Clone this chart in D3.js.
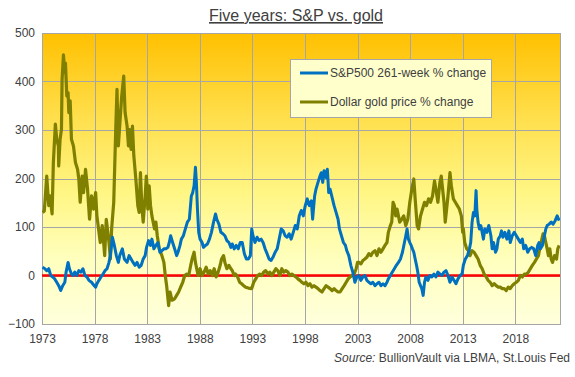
<!DOCTYPE html>
<html>
<head>
<meta charset="utf-8">
<script src="https://cdn.jsdelivr.net/npm/d3@7"></script>
<style>
  html, body { margin: 0; padding: 0; background: #ffffff; }
  svg { display: block; font-family: "Liberation Sans", Arial, sans-serif; }
</style>
</head>
<body>
<svg id="chart" width="575" height="377"></svg>
<script>
// ---------- DATA ----------
const chartTitle = "Five years: S&P vs. gold";
const seriesNames = ["S&P500 261-week % change", "Dollar gold price % change"];
const xTickYears = [1973, 1978, 1983, 1988, 1993, 1998, 2003, 2008, 2013, 2018];
const yTicks = [-100, 0, 100, 200, 300, 400, 500];

// [decimal year, % change]
const spxSeries = [
  [1973.05,17],[1973.22,15],[1973.45,10],[1973.64,14],[1973.83,0],[1974.02,-3],[1974.21,-7],[1974.40,-14],
  [1974.59,-21],[1974.78,-31],[1974.97,-21],[1975.17,-14],[1975.29,7],[1975.48,27],[1975.61,14],[1975.80,3],
  [1975.93,0],[1976.12,7],[1976.31,0],[1976.50,10],[1976.69,7],[1976.89,14],[1977.08,0],[1977.27,-3],
  [1977.46,-10],[1977.71,-14],[1977.97,-21],[1978.10,-24],[1978.22,-17],[1978.41,-10],[1978.61,-3],[1978.80,3],
  [1978.99,10],[1979.18,14],[1979.37,27],[1979.50,41],[1979.69,79],[1979.88,62],[1980.07,41],[1980.26,27],
  [1980.39,41],[1980.64,55],[1980.83,34],[1981.09,27],[1981.28,41],[1981.47,34],[1981.66,27],[1981.85,21],
  [1982.04,27],[1982.24,17],[1982.43,21],[1982.62,34],[1982.81,41],[1982.94,58],
  [1983.13,72],[1983.32,62],[1983.45,75],[1983.64,55],[1983.83,62],[1984.02,68],[1984.21,48],[1984.40,51],
  [1984.59,55],[1984.78,55],[1984.97,58],[1985.10,68],[1985.23,82],[1985.42,68],[1985.61,55],[1985.80,41],
  [1985.93,48],[1986.12,62],[1986.25,75],[1986.44,82],[1986.63,96],[1986.82,110],[1987.01,116],[1987.20,164],
  [1987.33,171],[1987.46,185],[1987.59,223],[1987.68,192],[1987.78,137],[1987.90,89],[1988.03,75],[1988.22,68],
  [1988.35,58],[1988.54,62],[1988.73,65],[1988.92,75],[1989.11,89],[1989.31,110],[1989.50,127],[1989.62,116],
  [1989.82,106],[1990.01,89],[1990.20,86],[1990.39,82],[1990.58,72],[1990.77,68],[1990.96,58],[1991.09,65],
  [1991.28,55],[1991.47,62],[1991.66,55],[1991.85,68],[1992.04,68],[1992.24,45],[1992.43,34],[1992.62,34],
  [1992.81,41],[1992.94,96],
  [1993.06,82],[1993.25,68],[1993.45,79],[1993.64,72],[1993.83,75],[1994.02,68],[1994.21,55],[1994.40,45],
  [1994.59,34],[1994.78,31],[1994.97,38],[1995.17,48],[1995.36,55],[1995.55,75],[1995.74,96],[1995.93,92],
  [1996.12,82],[1996.31,79],[1996.50,86],[1996.69,75],[1996.89,89],[1997.08,103],[1997.27,96],[1997.46,123],
  [1997.65,134],[1997.84,123],[1998.03,144],[1998.22,158],[1998.41,144],[1998.61,154],[1998.73,116],[1998.92,164],
  [1999.05,178],[1999.24,192],[1999.43,205],[1999.56,212],[1999.69,192],[1999.82,216],[2000.01,202],[2000.13,219],
  [2000.26,171],[2000.39,178],[2000.58,161],[2000.77,144],[2000.96,130],[2001.15,116],[2001.28,96],[2001.47,82],
  [2001.66,68],[2001.85,62],[2001.98,51],[2002.17,41],[2002.36,21],[2002.55,7],[2002.75,-14],[2002.94,-3],
  [2003.13,0],[2003.32,-10],[2003.51,-3],[2003.70,0],[2003.89,-10],[2004.08,-14],[2004.27,-17],[2004.46,-14],
  [2004.66,-21],[2004.85,-17],[2005.04,-14],[2005.23,-21],[2005.42,-17],[2005.61,-21],[2005.80,-14],[2005.93,-7],
  [2006.12,0],[2006.31,7],[2006.50,14],[2006.69,21],[2006.89,27],[2007.08,34],[2007.27,48],[2007.46,68],
  [2007.59,82],[2007.71,96],[2007.84,75],[2007.97,68],[2008.10,62],[2008.22,55],[2008.35,48],[2008.48,34],
  [2008.61,21],[2008.73,7],[2008.86,-14],[2008.99,-21],[2009.11,-27],[2009.24,-41],[2009.37,-14],[2009.50,-3],
  [2009.69,-10],[2009.88,0],[2010.07,-3],[2010.26,3],[2010.45,-3],[2010.64,7],[2010.83,3],[2011.03,0],
  [2011.22,7],[2011.41,10],[2011.60,0],[2011.79,-14],[2011.98,-3],[2012.17,-10],[2012.36,-17],[2012.55,-7],
  [2012.75,0],[2012.94,3],
  [2013.06,21],[2013.25,34],[2013.45,41],[2013.64,55],[2013.76,68],[2013.89,110],[2014.02,130],[2014.15,123],
  [2014.27,175],[2014.34,137],[2014.46,110],[2014.59,96],[2014.72,103],[2014.85,89],[2014.97,75],[2015.10,96],
  [2015.29,89],[2015.48,103],[2015.68,82],[2015.80,55],[2015.93,68],[2016.12,48],[2016.25,55],[2016.38,75],
  [2016.57,82],[2016.69,92],[2016.82,79],[2017.01,89],[2017.20,75],[2017.39,92],[2017.52,68],[2017.71,82],
  [2017.90,89],[2018.10,82],[2018.29,75],[2018.48,68],[2018.67,75],[2018.80,55],[2018.99,62],[2019.18,48],
  [2019.37,55],[2019.56,58],[2019.75,55],[2019.94,41],[2020.13,62],[2020.26,68],[2020.39,55],[2020.58,62],
  [2020.77,82],[2020.90,96],[2021.03,103],[2021.22,106],[2021.41,110],[2021.60,106],[2021.79,113],[2021.98,123],
  [2022.17,113]
];

const goldSeries = [
  [1973.05,130],[1973.22,133],[1973.45,205],[1973.64,144],[1973.76,164],[1973.96,127],[1974.08,233],[1974.27,312],
  [1974.40,281],[1974.56,267],[1974.59,226],[1974.72,281],[1974.85,301],[1974.91,404],[1975.04,455],[1975.17,418],
  [1975.23,438],[1975.36,370],[1975.48,377],[1975.55,336],[1975.68,360],[1975.80,281],[1975.99,267],[1976.18,233],
  [1976.38,219],[1976.50,199],[1976.63,151],[1976.82,205],[1976.95,171],[1977.14,219],[1977.33,178],[1977.52,116],
  [1977.71,164],[1977.90,137],[1978.10,171],[1978.22,123],[1978.54,68],[1978.73,103],[1978.96,41],[1979.11,116],
  [1979.37,68],[1979.50,34],[1979.62,96],[1979.82,151],[1980.01,301],[1980.13,384],[1980.26,267],[1980.45,329],
  [1980.58,370],[1980.77,411],[1980.90,336],[1981.09,308],[1981.22,267],[1981.34,301],[1981.47,260],[1981.60,308],
  [1981.73,247],[1981.92,199],[1982.11,144],[1982.24,130],[1982.36,212],[1982.49,144],[1982.62,110],[1982.81,164],
  [1982.92,205],[1983.00,180],
  [1983.06,137],[1983.19,185],[1983.32,144],[1983.45,123],[1983.57,110],[1983.70,96],[1983.83,110],[1983.96,82],
  [1984.15,55],[1984.40,41],[1984.59,27],[1984.72,0],[1984.85,-21],[1985.04,-62],[1985.17,-34],[1985.36,-51],
  [1985.61,-48],[1985.80,-41],[1985.99,-34],[1986.18,-24],[1986.38,-14],[1986.57,0],[1986.76,3],[1986.95,0],
  [1987.14,21],[1987.27,34],[1987.46,48],[1987.59,27],[1987.71,14],[1987.84,0],[1988.03,14],[1988.22,0],
  [1988.41,7],[1988.61,17],[1988.80,3],[1988.99,10],[1989.18,0],[1989.37,14],[1989.56,-3],[1989.75,7],
  [1989.94,21],[1990.07,34],[1990.26,41],[1990.39,27],[1990.58,14],[1990.77,21],[1990.96,14],[1991.09,10],
  [1991.28,0],[1991.41,3],[1991.60,-3],[1991.79,-14],[1991.98,-17],[1992.17,-21],[1992.36,-24],[1992.62,-26],
  [1992.94,-27],
  [1993.13,-14],[1993.32,-7],[1993.51,0],[1993.70,3],[1993.89,0],[1994.08,7],[1994.27,10],[1994.46,3],
  [1994.66,7],[1994.85,0],[1995.04,7],[1995.23,14],[1995.42,10],[1995.61,0],[1995.80,14],[1995.99,7],
  [1996.18,10],[1996.38,7],[1996.57,0],[1996.76,3],[1996.95,0],[1997.14,-3],[1997.33,-7],[1997.52,-10],
  [1997.71,-14],[1997.90,-17],[1998.10,-14],[1998.29,-21],[1998.48,-17],[1998.67,-24],[1998.86,-21],[1999.05,-24],
  [1999.24,-27],[1999.43,-31],[1999.62,-34],[1999.82,-27],[2000.01,-21],[2000.20,-24],[2000.39,-27],[2000.58,-31],
  [2000.77,-27],[2000.96,-31],[2001.15,-34],[2001.34,-34],[2001.54,-27],[2001.73,-21],[2001.92,-14],[2002.11,-7],
  [2002.30,-3],[2002.49,0],[2002.68,3],[2002.87,14],[2003.00,27],
  [2003.13,27],[2003.32,24],[2003.51,31],[2003.70,34],[2003.89,38],[2004.08,45],[2004.27,41],[2004.46,48],
  [2004.66,51],[2004.85,41],[2005.04,55],[2005.23,48],[2005.42,55],[2005.61,62],[2005.80,68],[2005.93,89],
  [2006.12,103],[2006.25,110],[2006.38,151],[2006.50,144],[2006.63,123],[2006.76,137],[2006.89,123],[2007.01,110],
  [2007.20,116],[2007.39,123],[2007.59,103],[2007.78,116],[2007.97,151],[2008.16,178],[2008.35,199],[2008.48,158],
  [2008.67,103],[2008.80,96],[2008.99,123],[2009.18,137],[2009.37,151],[2009.56,144],[2009.75,158],[2009.94,151],
  [2010.13,164],[2010.32,195],[2010.45,178],[2010.64,151],[2010.83,192],[2010.96,205],[2011.09,178],[2011.22,151],
  [2011.34,110],[2011.47,137],[2011.60,164],[2011.79,212],[2011.92,185],[2012.11,158],[2012.30,151],[2012.49,144],
  [2012.68,137],[2012.87,123],[2013.00,89],
  [2013.06,96],[2013.19,68],[2013.38,55],[2013.57,51],[2013.70,41],[2013.89,51],[2014.08,48],[2014.27,41],
  [2014.46,34],[2014.66,21],[2014.85,14],[2015.04,3],[2015.23,-3],[2015.42,-10],[2015.61,-14],[2015.80,-21],
  [2015.99,-17],[2016.18,-21],[2016.38,-24],[2016.57,-24],[2016.76,-27],[2016.95,-27],[2017.14,-31],[2017.33,-24],
  [2017.52,-27],[2017.71,-21],[2017.90,-17],[2018.10,-14],[2018.29,-10],[2018.48,0],[2018.67,-3],[2018.86,3],
  [2019.05,3],[2019.24,7],[2019.43,14],[2019.62,21],[2019.82,27],[2020.01,34],[2020.20,41],[2020.32,55],
  [2020.45,68],[2020.64,86],[2020.77,82],[2020.90,68],[2021.03,55],[2021.15,41],[2021.28,55],[2021.41,34],
  [2021.54,27],[2021.73,41],[2021.92,34],[2022.04,55],[2022.17,62]
];

// ---------- LAYOUT ----------
const W = 575, H = 377;
const plot = { left: 42, right: 560, top: 33, bottom: 324 };
const colors = { spx: "#0070C0", gold: "#808000", zero: "#FF0000", grid: "#A6A6A6", text: "#404040" };

const svg = d3.select("#chart");

const x = d3.scaleLinear().domain([1973, 2022.25]).range([plot.left, plot.right]);
const y = d3.scaleLinear().domain([-100, 500]).range([plot.bottom, plot.top]);

// background gradient
const defs = svg.append("defs");
const grad = defs.append("linearGradient").attr("id", "bg").attr("x1", 0).attr("y1", 0).attr("x2", 0).attr("y2", 1);
[[0, "#FFC000"], [0.28, "#FFDE4A"], [0.55, "#FFF684"], [0.78, "#FFFFBE"], [1, "#FFFFDC"]]
  .forEach(([o, c]) => grad.append("stop").attr("offset", o).attr("stop-color", c));

svg.append("rect")
  .attr("x", plot.left).attr("y", plot.top)
  .attr("width", plot.right - plot.left).attr("height", plot.bottom - plot.top)
  .attr("fill", "url(#bg)");

// gridlines
const grid = svg.append("g");
grid.selectAll(".hg").data(yTicks).enter().append("line")
  .attr("x1", plot.left).attr("x2", plot.right)
  .attr("y1", d => Math.round(y(d)) + 0.5).attr("y2", d => Math.round(y(d)) + 0.5)
  .attr("stroke", colors.grid).attr("stroke-width", 1);
grid.selectAll(".vg").data(xTickYears).enter().append("line")
  .attr("x1", d => Math.round(x(d)) + 0.5).attr("x2", d => Math.round(x(d)) + 0.5)
  .attr("y1", plot.top).attr("y2", plot.bottom)
  .attr("stroke", colors.grid).attr("stroke-width", 1);

// border
svg.append("rect")
  .attr("x", plot.left + 0.5).attr("y", plot.top + 0.5)
  .attr("width", plot.right - plot.left).attr("height", plot.bottom - plot.top)
  .attr("fill", "none").attr("stroke", colors.grid).attr("stroke-width", 1);

// axes (labels only)
const yAxis = d3.axisLeft(y).tickValues(yTicks).tickSize(0).tickPadding(7);
const gy = svg.append("g").attr("transform", `translate(${plot.left},0)`).call(yAxis);
gy.select(".domain").remove();
gy.selectAll("text").attr("fill", colors.text).attr("font-size", 12).attr("font-family", "Liberation Sans, Arial, sans-serif");

const xAxis = d3.axisBottom(x).tickValues(xTickYears).tickFormat(d3.format("d")).tickSize(0).tickPadding(10);
const gx = svg.append("g").attr("transform", `translate(0,${plot.bottom})`).call(xAxis);
gx.select(".domain").remove();
gx.selectAll("text").attr("fill", colors.text).attr("font-size", 12).attr("font-family", "Liberation Sans, Arial, sans-serif");

// zero line
svg.append("line")
  .attr("x1", plot.left).attr("x2", plot.right)
  .attr("y1", y(0)).attr("y2", y(0))
  .attr("stroke", colors.zero).attr("stroke-width", 2.5);

// series
const line = d3.line().x(d => x(d[0])).y(d => y(d[1]));
const clip = defs.append("clipPath").attr("id", "clip").append("rect")
  .attr("x", plot.left).attr("y", plot.top).attr("width", plot.right - plot.left).attr("height", plot.bottom - plot.top);

svg.append("path").datum(goldSeries).attr("d", line)
  .attr("fill", "none").attr("stroke", colors.gold).attr("stroke-width", 3.2)
  .attr("stroke-linejoin", "round").attr("clip-path", "url(#clip)");
svg.append("path").datum(spxSeries).attr("d", line)
  .attr("fill", "none").attr("stroke", colors.spx).attr("stroke-width", 3)
  .attr("stroke-linejoin", "round").attr("clip-path", "url(#clip)");

// legend
const lg = svg.append("g");
lg.append("rect").attr("x", 290.5).attr("y", 59.5).attr("width", 201).attr("height", 58)
  .attr("fill", "#FFFFCC").attr("stroke", colors.grid).attr("stroke-width", 1);
const legendItems = [
  { name: seriesNames[0], color: colors.spx, cy: 73 },
  { name: seriesNames[1], color: colors.gold, cy: 102 }
];
legendItems.forEach(it => {
  lg.append("line").attr("x1", 300).attr("x2", 328).attr("y1", it.cy).attr("y2", it.cy)
    .attr("stroke", it.color).attr("stroke-width", 3);
  lg.append("text").attr("x", 330).attr("y", it.cy).attr("dy", "0.35em")
    .attr("font-size", 12).attr("fill", colors.text).text(it.name);
});

// title
svg.append("text").attr("x", 296).attr("y", 21).attr("text-anchor", "middle")
  .attr("font-size", 16).attr("fill", colors.text).attr("text-decoration", "underline")
  .text(chartTitle);

// source
const src = svg.append("text").attr("x", 570).attr("y", 362).attr("text-anchor", "end")
  .attr("font-size", 12).attr("fill", colors.text);
src.append("tspan").attr("font-style", "italic").text("Source:");
src.append("tspan").text(" BullionVault via LBMA, St.Louis Fed");
</script>
</body>
</html>
